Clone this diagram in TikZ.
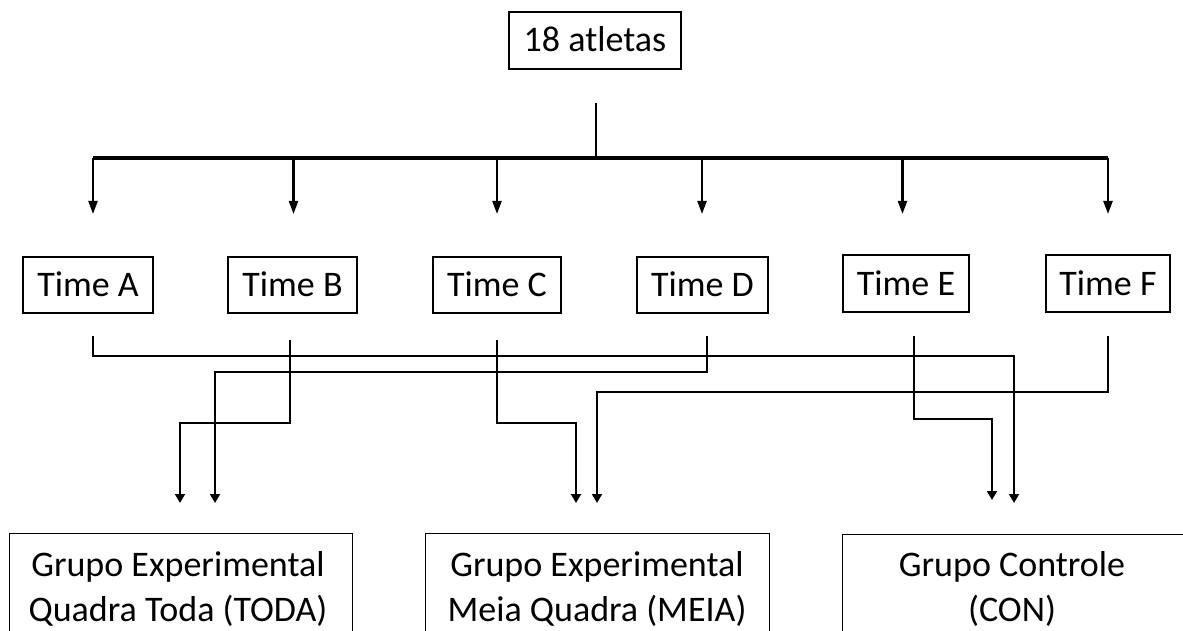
\documentclass[tikz,border=0pt]{standalone}
\usepackage{fontspec}
\setmainfont{Carlito}
\usetikzlibrary{arrows.meta}
\begin{document}
\begin{tikzpicture}[x=1pt,y=-1pt,
  tbox/.style={draw=black, line width=1.4pt, inner sep=0pt,
    font=\fontsize{36}{43}\selectfont, text height=23pt, text depth=0pt},
  gbox/.style={draw=black, line width=1.4pt, inner sep=0pt, anchor=north west},
  gtext/.style={font=\fontsize{36}{43}\selectfont, anchor=base, inner sep=0pt},
  tarrow/.style={line width=2.2pt, -{Triangle[length=13pt,width=9pt]}},
  conn/.style={line width=1.8pt, -{Triangle[length=9pt,width=10pt]}},
  ]
\useasboundingbox (0,0) rectangle (1183,631);
\clip (0,0) rectangle (1183,631);

% top node
\node[tbox, minimum width=172pt, minimum height=57pt] (top) at (595,40.5) {18 atletas};

% team nodes
\node[tbox, minimum width=130pt, minimum height=56pt] (tA) at (88,285) {Time A};
\node[tbox, minimum width=129pt, minimum height=56pt] (tB) at (292.5,285) {Time B};
\node[tbox, minimum width=128pt, minimum height=56pt] (tC) at (497,285) {Time C};
\node[tbox, minimum width=131pt, minimum height=56pt] (tD) at (702.5,285) {Time D};
\node[tbox, minimum width=126pt, minimum height=57pt] (tE) at (906,283.5) {Time E};
\node[tbox, minimum width=124pt, minimum height=57pt] (tF) at (1108,283.5) {Time F};

% group boxes
\node[gbox, minimum width=343pt, minimum height=160pt] (g1) at (9,533) {};
\node[gbox, minimum width=344pt, minimum height=160pt] (g2) at (425,533) {};
\node[gbox, minimum width=350pt, minimum height=160pt] (g3) at (842,534) {};
\node[gtext] (g1a) at (178,576) {Grupo Experimental};
\node[gtext] (g1b) at (178,621) {Quadra Toda (TODA)};
\node[gtext] (g2a) at (597,576) {Grupo Experimental};
\node[gtext] (g2b) at (597,621) {Meia Quadra (MEIA)};
\node[gtext] (g3a) at (1012,576) {Grupo Controle};
\node[gtext] (g3b) at (1012,621) {(CON)};

% distribution tree
\coordinate (t0) at (596,103);
\coordinate (bm) at (596,158);
\coordinate (bL) at (93,158);
\coordinate (bR) at (1108,158);
\draw[line width=2.2pt] (t0) -- (bm);
\draw[line width=3.8pt] (bL) -- (bR);
\foreach \x in {93,293.5,497,702,902.5,1108}{
  \draw[tarrow] (\x,158) -- (\x,214);
}

% team to group connectors
\coordinate (sA) at (93,336);   \coordinate (eA) at (1014,503);
\coordinate (sB) at (290,340);  \coordinate (eB) at (180,503);
\coordinate (sC) at (497,340);  \coordinate (eC) at (576,503);
\coordinate (sD) at (707,336);  \coordinate (eD) at (215,503);
\coordinate (sE) at (914,336);  \coordinate (eE) at (992,500);
\coordinate (sF) at (1108,336); \coordinate (eF) at (597,503);

\draw[conn] (sA) -- ++(0,20) -| (eA);
\draw[conn] (sB) -- ++(0,83) -| (eB);
\draw[conn] (sC) -- ++(0,83) -| (eC);
\draw[conn] (sD) -- ++(0,36) -| (eD);
\draw[conn] (sE) -- ++(0,83) -| (eE);
\draw[conn] (sF) -- ++(0,56) -| (eF);
\end{tikzpicture}
\end{document}
